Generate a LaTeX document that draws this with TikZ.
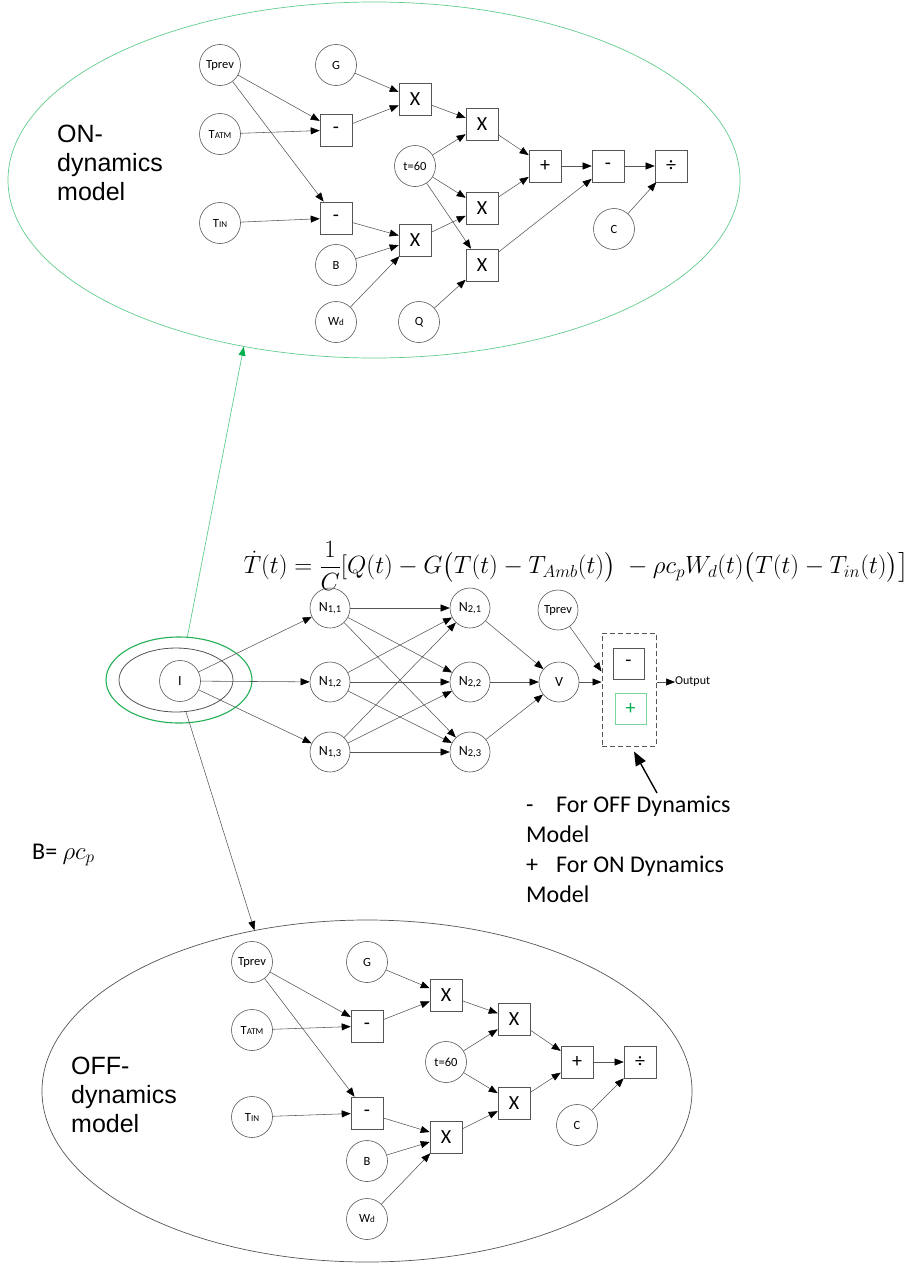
\documentclass[tikz,border=0pt]{standalone}
\usepackage{amsmath}
\usepackage{fontspec}
\setmainfont{Carlito}
\newfontfamily\arialfont{Liberation Sans}
\usetikzlibrary{arrows.meta,shapes.geometric}

\definecolor{lightgreen}{RGB}{95,205,140}
\definecolor{ringgreen}{RGB}{35,175,85}
\definecolor{plusgreen}{RGB}{0,176,80}
\definecolor{plusframe}{RGB}{120,215,155}
\definecolor{linegray}{RGB}{85,85,85}

\newcommand{\lo}[1]{{\fontsize{9}{9}\selectfont #1}}
\newcommand{\nsub}[1]{\raisebox{-1pt}{\fontsize{10.5}{10.5}\selectfont #1}}

\begin{document}
\begin{tikzpicture}[x=1pt,y=-1pt,
  var/.style={circle, draw=linegray, line width=0.6pt, minimum size=41pt, inner sep=0pt,
              font=\fontsize{12.5}{12.5}\selectfont},
  nn/.style={var, minimum size=40pt, font=\fontsize{14}{14}\selectfont},
  op/.style={rectangle, draw=linegray, line width=0.6pt, minimum size=32pt, inner sep=0pt,
             font=\fontsize{20}{20}\selectfont},
  edge/.style={draw=linegray, line width=0.55pt, -{Triangle[length=9pt,width=7pt,color=black]}},
  group/.style={ellipse, line width=0.7pt, inner sep=0pt},
  bigtext/.style={font=\arialfont\fontsize{25}{29}\selectfont, align=left, anchor=west, inner sep=0pt}
]
\useasboundingbox (0,0) rectangle (921,1266);

% ---------------- ON-dynamics model ----------------
\node[group, draw=lightgreen, minimum width=732pt, minimum height=356pt] (onbox) at (374,180) {};
\node[bigtext] (ontxt) at (57,163) {ON-\\dynamics\\model};

\node[var] (tTp) at (220,65) {Tprev};
\node[var] (tTa) at (220,134) {T\lo{ATM}};
\node[var] (tTi) at (220,223) {T\lo{IN}};
\node[var] (tG) at (336,65) {G};
\node[var] (tB) at (336,265) {B};
\node[var] (tW) at (336,322) {W\lo{d}};
\node[var] (tT60) at (415,166) {t=60};
\node[var] (tQ) at (419,322) {Q};
\node[var] (tC) at (614,229) {C};

\node[op] (tm1) at (336,130) {-};
\node[op] (tm2) at (336,218) {-};
\node[op] (tx1) at (415,99) {X};
\node[op] (tx2) at (482,124) {X};
\node[op] (tx3) at (482,208) {X};
\node[op] (tx4) at (415,240) {X};
\node[op] (tx5) at (482,265) {X};
\node[op] (tpl) at (545,166) {+};
\node[op] (tm3) at (608,166) {-};
\node[op] (tdv) at (671,166) {÷};

\foreach \a/\b in {tTp/tm1, tTp/tm2, tTa/tm1, tTi/tm2, tG/tx1, tm1/tx1, tm2/tx4,
                   tB/tx4, tW/tx4, tx1/tx2, tT60/tx2, tT60/tx3, tT60/tx5, tx4/tx3,
                   tQ/tx5, tx2/tpl, tx3/tpl, tpl/tm3, tx5/tm3, tm3/tdv, tC/tdv}
  \draw[edge] (\a) -- (\b);

% ---------------- equation ----------------
\node[font=\fontsize{25}{25}\selectfont, inner sep=0pt] (eq) at (576,566)
  {$\dot{T}(t)=\dfrac{1}{C}[Q(t)-G\bigl(T(t)-T_{Amb}(t)\bigr)\;-\rho c_pW_d(t)\bigl(T(t)-T_{in}(t)\bigr)\bigr]$};

% ---------------- OFF-dynamics model ----------------
\node[group, draw=linegray, minimum width=650pt, minimum height=342pt] (offbox) at (367,1091) {};
\node[bigtext] (offtxt) at (71,1095) {OFF-\\dynamics\\model};

\node[var] (bTp) at (252,962) {Tprev};
\node[var] (bTa) at (252,1030) {T\lo{ATM}};
\node[var] (bTi) at (252,1117) {T\lo{IN}};
\node[var] (bG) at (367,962) {G};
\node[var] (bB) at (367,1161) {B};
\node[var] (bW) at (367,1219) {W\lo{d}};
\node[var] (bT60) at (446,1062) {t=60};
\node[var] (bC) at (577,1125) {C};

\node[op] (bm1) at (367,1026) {-};
\node[op] (bm2) at (367,1113) {-};
\node[op] (bx1) at (446,995) {X};
\node[op] (bx2) at (514,1019) {X};
\node[op] (bx3) at (514,1103) {X};
\node[op] (bx4) at (446,1137) {X};
\node[op] (bpl) at (577,1062) {+};
\node[op] (bdv) at (640,1062) {÷};

\foreach \a/\b in {bTp/bm1, bTp/bm2, bTa/bm1, bTi/bm2, bG/bx1, bm1/bx1, bm2/bx4,
                   bB/bx4, bW/bx4, bx1/bx2, bT60/bx2, bT60/bx3, bx4/bx3,
                   bx2/bpl, bx3/bpl, bpl/bdv, bC/bdv}
  \draw[edge] (\a) -- (\b);

% ---------------- network ----------------
\node[group, draw=ringgreen, line width=1.1pt, minimum width=146pt, minimum height=86pt] (iouter) at (179,680) {};
\node[group, draw=linegray, line width=0.8pt, minimum width=114pt, minimum height=64pt] (imid) at (176,680) {};
\node[nn, minimum size=41pt] (in) at (180,681) {I};

\node[nn] (n11) at (330,608) {N\nsub{1,1}};
\node[nn] (n12) at (330,682) {N\nsub{1,2}};
\node[nn] (n13) at (330,752) {N\nsub{1,3}};
\node[nn] (n21) at (470,608) {N\nsub{2,1}};
\node[nn] (n22) at (470,682) {N\nsub{2,2}};
\node[nn] (n23) at (470,752) {N\nsub{2,3}};
\node[nn] (vv) at (559,682) {V};
\node[nn, font=\fontsize{12.5}{12.5}\selectfont] (mTp) at (558,610) {Tprev};

\node[rectangle, draw=linegray, line width=1pt, dash pattern=on 5pt off 3pt,
      minimum width=54pt, minimum height=113pt, inner sep=0pt] (sel) at (629,689.5) {};
\node[op, minimum size=31pt] (selm) at (628.5,663.5) {-};
\node[op, minimum size=31pt, draw=plusframe, text=plusgreen] (selp) at (630.5,708.5) {+};
\node[font=\fontsize{12}{12}\selectfont, anchor=west, inner sep=0pt] (outp) at (675,682) {Output};

\foreach \a in {n11,n12,n13} \draw[edge] (in) -- (\a);
\foreach \a in {n11,n12,n13}
  \foreach \b in {n21,n22,n23}
    \draw[edge] (\a) -- (\b);
\foreach \a in {n21,n22,n23} \draw[edge] (\a) -- (vv);
\draw[edge] (vv) -- (sel.west |- vv);
\draw[edge] (mTp) -- ([yshift=18pt]sel.west);
\draw[edge] (sel.east |- outp) -- (outp.west);

% links to the two sub-models
\draw[draw=lightgreen, line width=0.7pt, -{Triangle[length=9pt,width=7pt,color=plusgreen]}]
  (iouter) -- (onbox.232);
\draw[edge] (imid) -- (offbox.125);

% legend
\node[font=\fontsize{24}{30}\selectfont, align=left, anchor=north west, inner sep=0pt] (leg) at (526,796)
  {\makebox[30pt][l]{-}For OFF Dynamics\\Model\\\makebox[30pt][l]{+}For ON Dynamics\\Model};
\coordinate (legtip) at (657,793);
\draw[black, line width=1.4pt, -{Triangle[length=14pt,width=11pt]}] (legtip) -- ([xshift=5pt,yshift=-5pt]sel.south);

\node[font=\fontsize{24}{24}\selectfont, anchor=west, inner sep=0pt] (beq) at (32,855) {B= $\rho c_p$};
\end{tikzpicture}
\end{document}
